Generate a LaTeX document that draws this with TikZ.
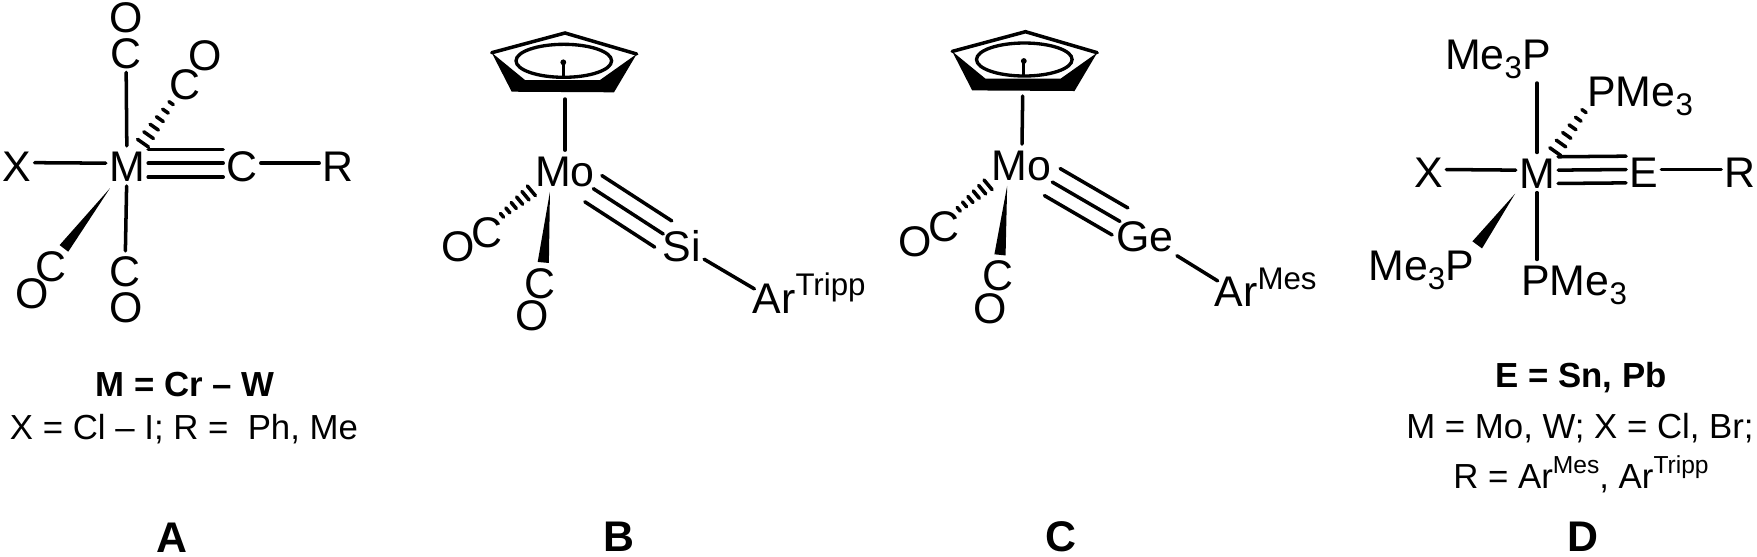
\documentclass[tikz,border=0pt]{standalone}
\usepackage{fontspec}
\setmainfont{Liberation Sans}
\usetikzlibrary{calc}

\newcommand{\atomsup}[1]{\raisebox{10pt}{\fontsize{17.8}{18}\selectfont #1}}
\newcommand{\atomsub}[1]{\raisebox{-5pt}{\fontsize{17.8}{18}\selectfont #1}}
\newcommand{\notesup}[1]{\raisebox{8pt}{\fontsize{14}{15}\selectfont #1}}

\tikzset{
  atom/.style={font=\fontsize{24.4}{26}\selectfont, inner xsep=1.7pt, inner ysep=0pt, text height=20.2pt, text depth=2.3pt, anchor=base},
  atomleft/.style={atom, anchor=base west},
  bond/.style={line width=2pt, line cap=round},
  notetext/.style={font=\fontsize{19.8}{21}\selectfont, inner sep=0pt, anchor=base},
  notebold/.style={font=\fontsize{19.8}{21}\selectfont\bfseries, inner sep=0pt, anchor=base},
  tagtext/.style={font=\fontsize{24.4}{26}\selectfont\bfseries, inner sep=0pt, anchor=base},
  cpring/.pic={
    \fill (-73.3,-7.3) -- (-53.3,31.7) -- (49,32.3) -- (71.7,-6) -- (35,20) -- (-40,20) -- cycle;
    \draw[bond, line join=miter] (-73.3,-7.3) -- (0,-27) -- (71.7,-6);
    \draw[line width=1.9pt] (-1.2,0.8) ellipse [x radius=47.8, y radius=16.5];
    \fill (-1.7,2.3) circle [radius=2.9];
    \draw[line width=1.7pt] (-1.7,2.3) -- (-1.7,16.5);
  }
}

\newcommand{\hashbond}[6]{
  \foreach \i in {0,...,5}{
    \pgfmathsetmacro{\hpos}{#3+(#4-#3)*\i/5}
    \pgfmathsetmacro{\hw}{#5+(#6-#5)*\i/5}
    \draw[bond] ($(#1)!\hpos!(#2)!\hw pt!90:(#1)$) -- ($(#1)!\hpos!(#2)!\hw pt!-90:(#1)$);
  }
}
\newcommand{\wedgebond}[5]{
  \fill ($(#1)!#3!(#2)$) -- ($(#1)!#4!(#2)!#5pt!90:(#1)$) -- ($(#1)!#4!(#2)!#5pt!-90:(#1)$) -- cycle;
}
\newcommand{\multibond}[5]{
  \foreach \d in {-1,0,1}{
    \draw[bond] ($(#1)!#3!(#2)!{\d*#5}!90:(#2)$) -- ($(#1)!#4!(#2)!{\d*#5}!90:(#2)$);
  }
}

\begin{document}
\begin{tikzpicture}[x=0.02cm, y=-0.02cm]
\useasboundingbox (0,0) rectangle (1757,556);

\node[atom] (MA) at (127,181.7) {M};
\node[atom] (XA) at (17,181.2) {X};
\node[atom] (CtA) at (242,181.7) {C};
\node[atom] (RA) at (338,181.7) {R};
\node[atom] (CupA) at (126,68) {C};
\node[atom] (OupA) at (126,32.7) {O};
\node[atom] (ChA) at (185,99) {C};
\node[atom] (OhA) at (205,70.7) {O};
\node[atom] (CwA) at (51,281) {C};
\node[atom] (OwA) at (32,308.7) {O};
\node[atom] (CdnA) at (125,286.7) {C};
\node[atom] (OdnA) at (126,322.7) {O};
\draw[bond] (CupA) -- (MA);
\draw[bond] (MA) -- (CdnA);
\draw[bond] ([yshift=1.6pt]XA.east) -- ([yshift=1.6pt]MA.west);
\draw[bond] ([yshift=1.6pt]CtA.east) -- ([yshift=1.6pt]RA.west);
\foreach \s in {9.5,1.6,-6.3}{
  \draw[bond] ([yshift=\s pt]MA.east) -- ([yshift=\s pt]CtA.west);
}
\hashbond{MA}{ChA}{0.276}{0.76}{3.8}{1.5}
\wedgebond{MA}{CwA}{0.224}{0.83}{3.1}

\pic at (565,60) {cpring};
\coordinate (cpB) at (565,99);
\node[atom] (MoB) at (565,186) {Mo};
\node[atom] (SiB) at (681.7,261.7) {Si};
\node[atomleft] (ArB) at (749.3,313.3) {Ar\atomsup{Tripp}};
\node[atom] (ChB) at (487.3,247.7) {C};
\node[atom] (OhB) at (458.3,261.7) {O};
\node[atom] (CwB) at (540.3,298.3) {C};
\node[atom] (OwB) at (532.3,330) {O};
\draw[bond] (cpB) -- (MoB);
\draw[bond] (SiB) -- ([xshift=2.9pt,yshift=-6.5pt]ArB.north west);
\multibond{MoB}{SiB}{0.243}{0.842}{8.9pt}
\hashbond{MoB.south west}{ChB.north east}{0.02}{1.16}{3.6}{1.4}
\wedgebond{[xshift=-8.5pt]MoB.south}{[xshift=1.7pt]CwB.north}{0.02}{1}{3.2}

\pic at (1025.5,58.7) {cpring};
\coordinate (cpC) at (1022.7,96);
\node[atom] (MoC) at (1021.7,180) {Mo};
\node[atom] (GeC) at (1145,251.7) {Ge};
\node[atomleft] (ArC) at (1211.3,306.7) {Ar\atomsup{Mes}};
\node[atom] (ChC) at (944,241.7) {C};
\node[atom] (OhC) at (915,256) {O};
\node[atom] (CwC) at (997.7,290.7) {C};
\node[atom] (OwC) at (989.7,323.3) {O};
\draw[bond] (cpC) -- (MoC);
\draw[bond] (GeC) -- ([xshift=3.6pt,yshift=-5.7pt]ArC.north west);
\multibond{MoC}{GeC}{0.248}{0.797}{8.9pt}
\hashbond{MoC.south west}{ChC.north east}{0.02}{1.16}{3.6}{1.4}
\wedgebond{[xshift=-8.2pt]MoC.south}{[xshift=1.3pt]CwC.north}{0.02}{1}{3.2}

\node[atom] (MD) at (1537,188.3) {M};
\node[atom] (XD) at (1428.7,187.7) {X};
\node[atom] (ED) at (1643.7,187.7) {E};
\node[atom] (RD) at (1740,187.7) {R};
\node[atomleft] (PupD) at (1441.7,69.3) {Me\atomsub{3}P};
\node[atomleft] (PhD) at (1584,106.7) {PMe\atomsub{3}};
\node[atomleft] (PwD) at (1365,280.7) {Me\atomsub{3}P};
\node[atomleft] (PdnD) at (1518,295.3) {PMe\atomsub{3}};
\draw[bond, shorten >=5.3pt] (MD.north) -- (MD.north |- PupD.south);
\draw[bond] (MD.south) -- (MD.south |- PdnD.north);
\draw[bond] ([yshift=1.4pt]XD.east) -- ([yshift=1.4pt]MD.west);
\draw[bond] ([yshift=1.4pt]ED.east) -- ([yshift=1.4pt]RD.west);
\foreach \s in {9,1.4,-6.2}{
  \draw[bond] ([yshift=\s pt]MD.east) -- ([yshift=\s pt]ED.west);
}
\hashbond{[xshift=-2pt]MD.north east}{PhD.south west}{0.02}{1}{3.8}{1.5}
\wedgebond{MD.south west}{PwD.north east}{0.02}{1}{3.4}

\node[notebold] (noteAa) at (185,396.7) {M = Cr – W};
\node[notetext] (noteAb) at (184,439) {X = Cl – I; R =~ Ph, Me};
\node[notebold] (noteDa) at (1581,387) {E = Sn, Pb};
\node[notetext] (noteDb) at (1580,438) {M = Mo, W; X = Cl, Br;};
\node[notetext] (noteDc) at (1581,488) {R = Ar\notesup{Mes}, Ar\notesup{Tripp}};

\node[tagtext] (tagA) at (172,552.7) {A};
\node[tagtext] (tagB) at (619,551.7) {B};
\node[tagtext] (tagC) at (1061,551.7) {C};
\node[tagtext] (tagD) at (1583,551.7) {D};
\end{tikzpicture}
\end{document}
